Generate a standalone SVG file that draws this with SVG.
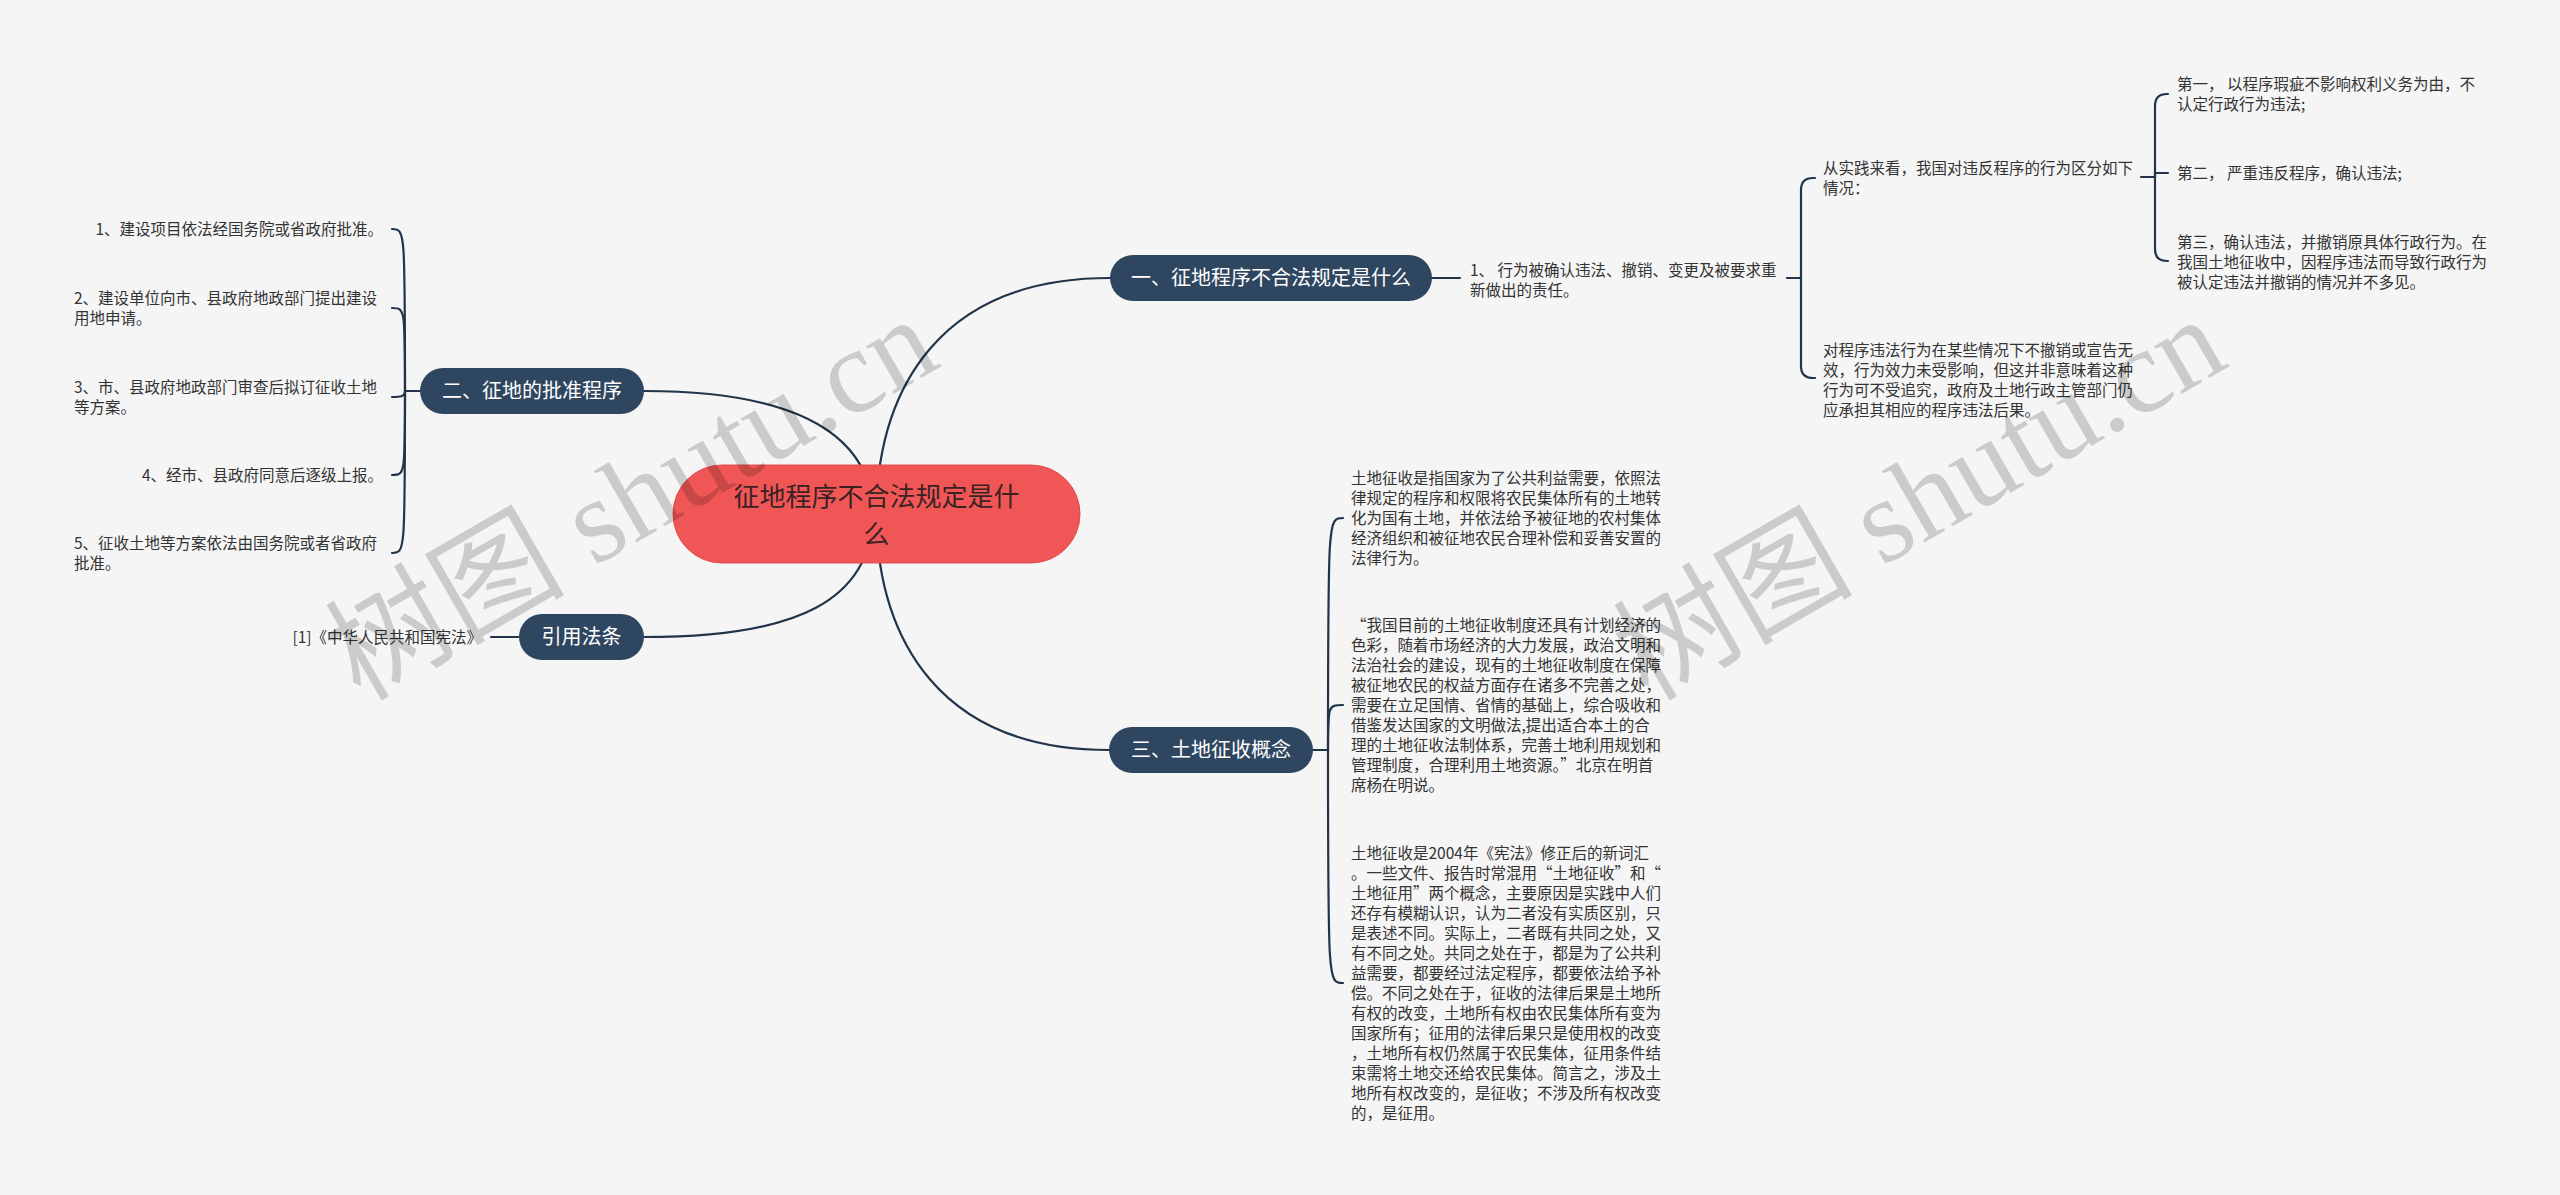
<svg xmlns="http://www.w3.org/2000/svg" width="2560" height="1195" viewBox="0 0 2560 1195">
<style>
text{font-family:"Noto Sans CJK SC","Liberation Sans",sans-serif}
.topic rect{fill:#2f4661}
.topic text{fill:#ffffff;font-size:20px;text-anchor:middle}
.root rect{fill:#f05656;stroke:#e04c4c;stroke-width:1}
.root text{fill:#3a2222;font-size:26px;text-anchor:middle}
.leaf text{fill:#333333;font-size:15.5px}
.leaf .r{text-anchor:end}
.conn path{fill:none;stroke:#213449;stroke-width:2.2;stroke-linecap:round}
.wm text{font-family:"Liberation Serif","Noto Sans CJK SC",serif;font-size:120px;fill:#000000;fill-opacity:0.17}
</style>
<rect width="2560" height="1195" fill="#f5f5f5"/>

<g id="connectors" class="conn">
  <path d="M876 514 C878 388,940 278,1110 278"/>
  <path d="M876 514 C878 640,940 750,1109 750"/>
  <path d="M874 514 C870 430,790 391,644 391"/>
  <path d="M874 514 C870 600,800 637,644 637"/>
  <path d="M1432 278 H1460"/>
  <path d="M519 637 H491"/>
  <path d="M420 391 H405"/>
  <path d="M405 391 C405 229,405 229,392 229"/>
  <path d="M405 391 C405 308,405 308,392 308"/>
  <path d="M405 391 C405 397,400 397,392 397"/>
  <path d="M405 391 C405 475,405 475,392 475"/>
  <path d="M405 391 C405 553,405 553,392 553"/>
  <path d="M1313 750 H1328"/>
  <path d="M1328 750 C1328 518,1328 518,1343 518"/>
  <path d="M1328 750 C1328 705,1328 705,1343 705"/>
  <path d="M1328 750 C1328 983,1328 983,1343 983"/>
  <path d="M1787 278 H1801"/>
  <path d="M1801 278 V190 Q1801 178 1813 178 H1815"/>
  <path d="M1801 278 V366 Q1801 378 1813 378 H1815"/>
  <path d="M2141 177 H2155"/>
  <path d="M2155 177 V106 Q2155 94 2167 94 H2168"/>
  <path d="M2155 177 V173 H2168"/>
  <path d="M2155 177 V249 Q2155 261 2167 261 H2168"/>
</g>

<g id="root" class="root">
  <rect x="673" y="465" width="407" height="98" rx="49"/>
  <text x="876.5" y="506">征地程序不合法规定是什</text>
  <text x="876.5" y="544">么</text>
</g>

<g id="topic1" class="topic">
  <rect x="1110" y="255" width="322" height="46" rx="23"/>
  <text x="1271" y="285">一、征地程序不合法规定是什么</text>
</g>
<g id="topic2" class="topic">
  <rect x="420" y="368" width="224" height="46" rx="23"/>
  <text x="532" y="398">二、征地的批准程序</text>
</g>
<g id="topic3" class="topic">
  <rect x="1109" y="727" width="204" height="46" rx="23"/>
  <text x="1211" y="757">三、土地征收概念</text>
</g>
<g id="topic4" class="topic">
  <rect x="519" y="614" width="125" height="46" rx="23"/>
  <text x="581.5" y="644">引用法条</text>
</g>

<g id="leaf-2-1" class="leaf"><text class="r" x="383" y="235">1、建设项目依法经国务院或省政府批准。</text></g>
<g id="leaf-2-2" class="leaf"><text x="74" y="303.5">2、建设单位向市、县政府地政部门提出建设</text><text x="74" y="323.5">用地申请。</text></g>
<g id="leaf-2-3" class="leaf"><text x="74" y="392.5">3、市、县政府地政部门审查后拟订征收土地</text><text x="74" y="412.5">等方案。</text></g>
<g id="leaf-2-4" class="leaf"><text class="r" x="383" y="480.5">4、经市、县政府同意后逐级上报。</text></g>
<g id="leaf-2-5" class="leaf"><text x="74" y="548.5">5、征收土地等方案依法由国务院或者省政府</text><text x="74" y="568.5">批准。</text></g>

<g id="leaf-4-1" class="leaf"><text class="r" x="482" y="642.5">[1]《中华人民共和国宪法》</text></g>

<g id="leaf-1-1" class="leaf"><text x="1470" y="275.5">1、 行为被确认违法、撤销、变更及被要求重</text><text x="1470" y="295.5">新做出的责任。</text></g>
<g id="leaf-1-1-1" class="leaf"><text x="1823" y="173.5">从实践来看，我国对违反程序的行为区分如下</text><text x="1823" y="193.5">情况：</text></g>
<g id="leaf-1-1-2" class="leaf"><text x="1823" y="355.5">对程序违法行为在某些情况下不撤销或宣告无</text><text x="1823" y="375.5">效，行为效力未受影响，但这并非意味着这种</text><text x="1823" y="395.5">行为可不受追究，政府及土地行政主管部门仍</text><text x="1823" y="415.5">应承担其相应的程序违法后果。</text></g>
<g id="leaf-a" class="leaf"><text x="2177" y="90">第一， 以程序瑕疵不影响权利义务为由，不</text><text x="2177" y="110">认定行政行为违法;</text></g>
<g id="leaf-b" class="leaf"><text x="2177" y="178.5">第二， 严重违反程序，确认违法;</text></g>
<g id="leaf-c" class="leaf"><text x="2177" y="247.5">第三，确认违法，并撤销原具体行政行为。在</text><text x="2177" y="267.5">我国土地征收中，因程序违法而导致行政行为</text><text x="2177" y="287.5">被认定违法并撤销的情况并不多见。</text></g>

<g id="leaf-3-1" class="leaf">
  <text x="1351" y="483.5">土地征收是指国家为了公共利益需要，依照法</text>
  <text x="1351" y="503.5">律规定的程序和权限将农民集体所有的土地转</text>
  <text x="1351" y="523.5">化为国有土地，并依法给予被征地的农村集体</text>
  <text x="1351" y="543.5">经济组织和被征地农民合理补偿和妥善安置的</text>
  <text x="1351" y="563.5">法律行为。</text>
</g>
<g id="leaf-3-2" class="leaf">
  <text x="1351" y="630.5">“我国目前的土地征收制度还具有计划经济的</text>
  <text x="1351" y="650.5">色彩，随着市场经济的大力发展，政治文明和</text>
  <text x="1351" y="670.5">法治社会的建设，现有的土地征收制度在保障</text>
  <text x="1351" y="690.5">被征地农民的权益方面存在诸多不完善之处，</text>
  <text x="1351" y="710.5">需要在立足国情、省情的基础上，综合吸收和</text>
  <text x="1351" y="730.5">借鉴发达国家的文明做法,提出适合本土的合</text>
  <text x="1351" y="750.5">理的土地征收法制体系，完善土地利用规划和</text>
  <text x="1351" y="770.5">管理制度，合理利用土地资源。”北京在明首</text>
  <text x="1351" y="790.5">席杨在明说。</text>
</g>
<g id="leaf-3-3" class="leaf">
  <text x="1351" y="858.5">土地征收是2004年《宪法》修正后的新词汇</text>
  <text x="1351" y="878.5">。一些文件、报告时常混用“土地征收”和“</text>
  <text x="1351" y="898.5">土地征用”两个概念，主要原因是实践中人们</text>
  <text x="1351" y="918.5">还存有模糊认识，认为二者没有实质区别，只</text>
  <text x="1351" y="938.5">是表述不同。实际上，二者既有共同之处，又</text>
  <text x="1351" y="958.5">有不同之处。共同之处在于，都是为了公共利</text>
  <text x="1351" y="978.5">益需要，都要经过法定程序，都要依法给予补</text>
  <text x="1351" y="998.5">偿。不同之处在于，征收的法律后果是土地所</text>
  <text x="1351" y="1018.5">有权的改变，土地所有权由农民集体所有变为</text>
  <text x="1351" y="1038.5">国家所有；征用的法律后果只是使用权的改变</text>
  <text x="1351" y="1058.5">，土地所有权仍然属于农民集体，征用条件结</text>
  <text x="1351" y="1078.5">束需将土地交还给农民集体。简言之，涉及土</text>
  <text x="1351" y="1098.5">地所有权改变的，是征收；不涉及所有权改变</text>
  <text x="1351" y="1118.5">的，是征用。</text>
</g>

<g id="watermark" class="wm">
  <text transform="translate(360,702) rotate(-30)">树图 shutu.cn</text>
  <text transform="translate(1648,702) rotate(-30)">树图 shutu.cn</text>
</g>
</svg>
